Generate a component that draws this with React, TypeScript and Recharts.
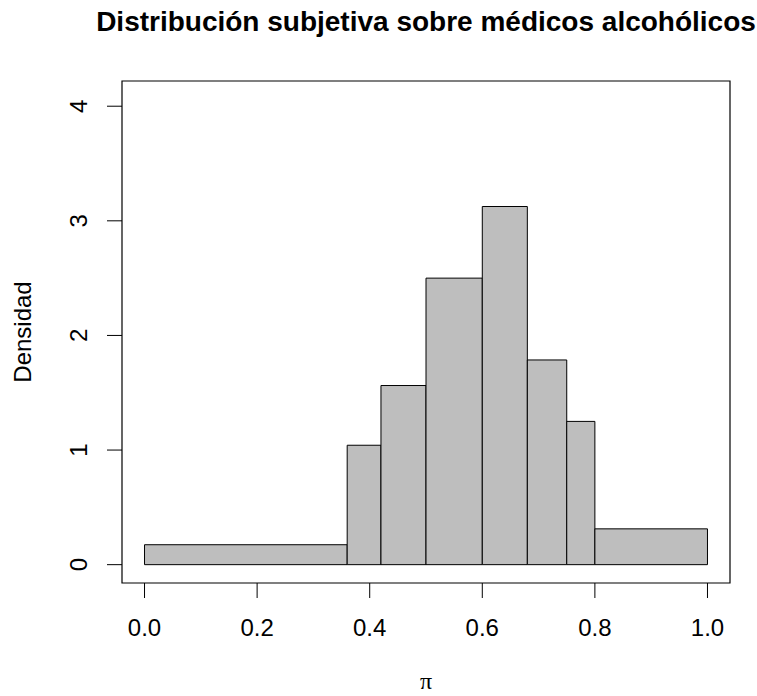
import { ComposedChart, XAxis, YAxis, Scatter, ReferenceArea, Label } from 'recharts'

// histogram breaks and densities (unequal bin widths)
const breaks = [0, 0.36, 0.42, 0.5, 0.6, 0.68, 0.75, 0.8, 1.0]
const densities = [0.174, 1.042, 1.563, 2.5, 3.125, 1.786, 1.25, 0.3125]
const xTicks = [0, 0.2, 0.4, 0.6, 0.8, 1.0]
const yTicks = [0, 1, 2, 3, 4]

const FONT = '"Liberation Sans", Arial, Helvetica, sans-serif'

const bins = densities.map((d, i) => ({
  lo: breaks[i],
  hi: breaks[i + 1],
  mid: (breaks[i] + breaks[i + 1]) / 2,
  density: d,
}))

const XTick = ({ x, y, payload }: any) => (
  <text x={x} y={y + 38} textAnchor="middle" fontSize={24} fontFamily={FONT} fill="#000">
    {Number(payload.value).toFixed(1)}
  </text>
)

const YTick = ({ x, y, payload }: any) => (
  <text
    transform={`translate(${x - 20.5},${y}) rotate(-90)`}
    textAnchor="middle"
    fontSize={24}
    fontFamily={FONT}
    fill="#000"
  >
    {payload.value}
  </text>
)

export default function App() {
  return (
    <div style={{ position: 'relative', width: 757, height: 696, background: '#fff' }}>
      <style>{'body{margin:0}'}</style>
      <ComposedChart width={757} height={696} margin={{ top: 81, right: 27, bottom: 0, left: 0 }}>
        <XAxis
          type="number"
          dataKey="mid"
          domain={[-0.04, 1.04]}
          ticks={xTicks}
          allowDataOverflow
          axisLine={false}
          tickLine={{ stroke: '#000', strokeWidth: 1 }}
          tickSize={15}
          tickMargin={0}
          tick={<XTick />}
          height={113}
        >
          <Label
            value="π"
            position="insideBottom"
            offset={7}
            style={{ fontFamily: '"Liberation Serif", "DejaVu Serif", serif', fontSize: 24, fill: '#000' }}
          />
        </XAxis>
        <YAxis
          type="number"
          dataKey="density"
          domain={[-0.16, 4.22]}
          ticks={yTicks}
          allowDataOverflow
          axisLine={false}
          tickLine={{ stroke: '#000', strokeWidth: 1 }}
          tickSize={15}
          tickMargin={0}
          tick={<YTick />}
          width={122}
        >
          <Label
            value="Densidad"
            angle={-90}
            position="center"
            dx={-39}
            style={{ fontFamily: FONT, fontSize: 24, fill: '#000' }}
          />
        </YAxis>
        {bins.map((b, i) => (
          <ReferenceArea
            key={i}
            x1={b.lo}
            x2={b.hi}
            y1={0}
            y2={b.density}
            fill="#BEBEBE"
            fillOpacity={1}
            stroke="#000"
            strokeWidth={1}
          />
        ))}
        <ReferenceArea
          x1={-0.04}
          x2={1.04}
          y1={-0.16}
          y2={4.22}
          fill="none"
          stroke="#000"
          strokeWidth={1.2}
        />
        <Scatter data={bins} dataKey="density" isAnimationActive={false} shape={() => <g />} />
      </ComposedChart>
      <svg
        width={757}
        height={696}
        style={{ position: 'absolute', left: 0, top: 0, pointerEvents: 'none' }}
      >
        <text x={426} y={31} textAnchor="middle" fontSize={28} fontWeight="bold" fontFamily={FONT} fill="#000">
          Distribución subjetiva sobre médicos alcohólicos
        </text>
      </svg>
    </div>
  )
}
